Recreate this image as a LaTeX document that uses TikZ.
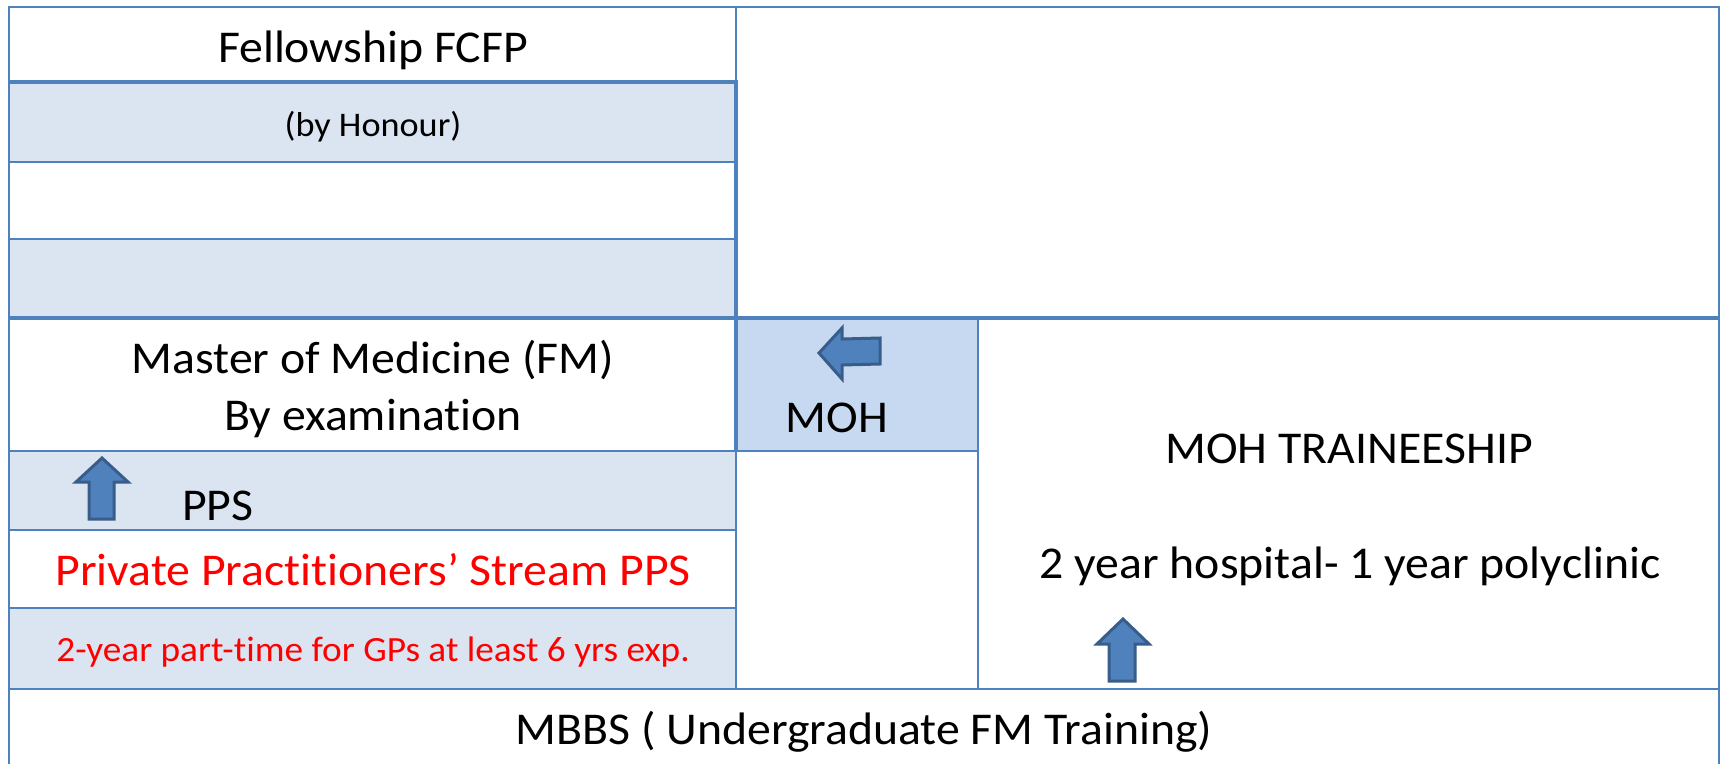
\documentclass[tikz,border=0pt]{standalone}
\usepackage{fontspec}
\setmainfont{Carlito}[FakeStretch=1.05, Ligatures={NoCommon}]
\definecolor{gridline}{HTML}{4F81BD}
\definecolor{band}{HTML}{DBE5F1}
\definecolor{mohfill}{HTML}{C6D9F1}
\definecolor{arrowfill}{HTML}{4F81BD}
\definecolor{arrowedge}{HTML}{385D8A}
\definecolor{redtext}{HTML}{FF0000}
\tikzset{
  thinline/.style={draw=gridline, line width=2.5pt},
  thickline/.style={draw=gridline, line width=4pt},
  bigtext/.style={anchor=base, inner sep=0pt, font=\fontsize{45.5}{54}\selectfont},
  midtext/.style={anchor=base, inner sep=0pt, font=\fontsize{35.5}{43}\selectfont},
  smalltext/.style={anchor=base, inner sep=0pt, font=\fontsize{34.5}{40}\selectfont},
  blockarrow/.style={fill=arrowfill, draw=arrowedge, line width=3pt, line join=miter}
}
\begin{document}
\begin{tikzpicture}[x=1pt,y=-1pt]
\useasboundingbox (0,0) rectangle (1721,764);
\fill[white] (0,0) rectangle (1721,764);
% banded fills
\fill[band] (9,82) rectangle (736,162);
\fill[band] (9,239) rectangle (736,318);
\fill[band] (9,451) rectangle (736,530);
\fill[band] (9,608) rectangle (736,689);
\fill[mohfill] (736,318) rectangle (978,451);
% thin grid lines
\draw[thinline] (9,764) -- (9,7) -- (1719,7) -- (1719,764);
\draw[thinline] (9,162) -- (736,162);
\draw[thinline] (9,239) -- (736,239);
\draw[thinline] (9,451) -- (978,451);
\draw[thinline] (9,530) -- (736,530);
\draw[thinline] (9,608) -- (736,608);
\draw[thinline] (9,689) -- (1719,689);
\draw[thinline] (736,7) -- (736,82);
\draw[thinline] (736,451) -- (736,689);
\draw[thinline] (978,318) -- (978,689);
% thick grid lines
\draw[thickline] (9,82) -- (738,82);
\draw[thickline] (736,82) -- (736,451);
\draw[thickline] (9,318) -- (1719,318);
% texts
\node[bigtext] (fell) at (373,62) {Fellowship FCFP};
\node[smalltext] (honour) at (373,136) {(by Honour)};
\node[bigtext] (master) at (373,373) {Master of Medicine (FM)};
\node[bigtext] (exam) at (373,430) {By examination};
\node[bigtext, anchor=base west] (pps) at (182,520) {PPS};
\node[bigtext, text=redtext] (private) at (373,585) {Private Practitioners’ Stream PPS};
\node[midtext, text=redtext] (parttime) at (373,661) {2-year part-time for GPs at least 6 yrs exp.};
\node[bigtext] (moh) at (837,432) {MOH};
\node[bigtext] (trainee) at (1349,463) {MOH TRAINEESHIP};
\node[bigtext] (hosp) at (1350,578) {2 year hospital- 1 year polyclinic};
\node[bigtext] (mbbs) at (864,744) {MBBS ( Undergraduate FM Training)};
% block arrows
\draw[blockarrow] (102,458) -- (128,482) -- (114,482) -- (114,519) -- (89,519) -- (89,482) -- (76,482) -- cycle;
\draw[blockarrow] (1123,619) -- (1149,644) -- (1135,644) -- (1135,681) -- (1109,681) -- (1109,644) -- (1097,644) -- cycle;
\draw[blockarrow] (819,353) -- (842,328) -- (842,339) -- (880,338) -- (880,364) -- (842,365) -- (842,379) -- cycle;
\end{tikzpicture}
\end{document}
